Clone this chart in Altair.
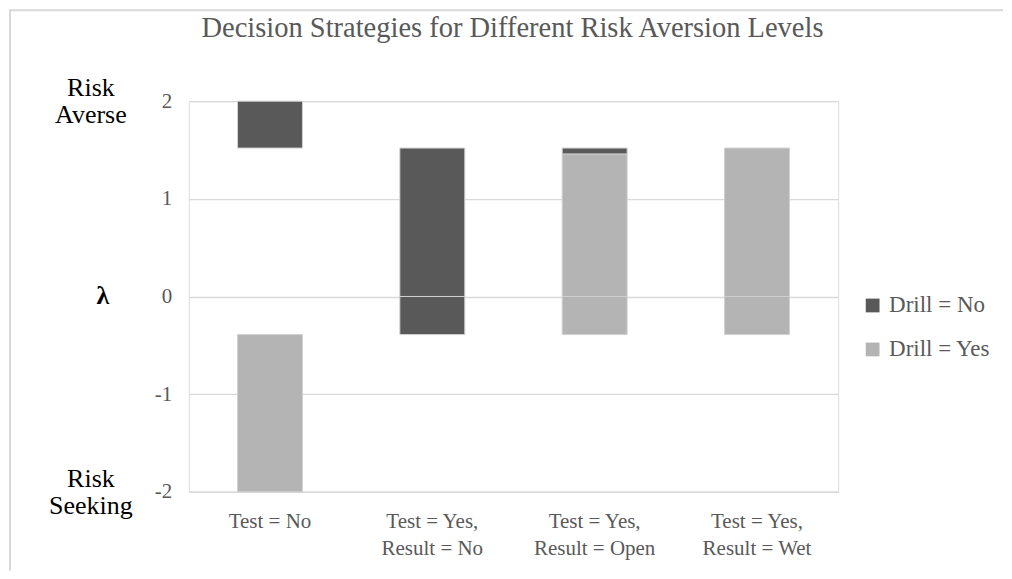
import altair as alt
import pandas as pd

# Categories (| marks a line break in the axis label)
categories = [
    "Test = No",
    "Test = Yes,|Result = No",
    "Test = Yes,|Result = Open",
    "Test = Yes,|Result = Wet",
]
series = ["Drill = No", "Drill = Yes"]

# Floating bar segments (lambda ranges)
seg_cat = [categories[0], categories[0],
           categories[1], categories[1],
           categories[2], categories[2], categories[2],
           categories[3], categories[3]]
seg_drill = ["Drill = No", "Drill = Yes",
             "Drill = No", "Drill = No",
             "Drill = Yes", "Drill = No", "Drill = Yes",
             "Drill = Yes", "Drill = Yes"]
seg_start = [1.52, -2.0,
             0.0, -0.39,
             0.0, 1.46, -0.39,
             0.0, -0.39]
seg_end = [2.0, -0.39,
           1.52, 0.0,
           1.46, 1.52, 0.0,
           1.52, 0.0]

y_ticks = [-2, -1, 0, 1, 2]
ann_text = ["Risk\nAverse", "λ", "Risk\nSeeking"]
ann_y = [2, 0, -2]
ann_lines = [2, 1, 2]
title_text = ["Decision Strategies for Different Risk Aversion Levels"]

bars_df = pd.DataFrame({"cat": seg_cat, "drill": seg_drill,
                        "start": seg_start, "end": seg_end})
ann_df = pd.DataFrame({"t": ann_text, "y": ann_y, "n": ann_lines})
title_df = pd.DataFrame({"t": title_text})

GRAY = "#595959"
FONT = "Liberation Serif"

yscale = alt.Scale(domain=[-2, 2], nice=False, zero=False)

bars = alt.Chart(bars_df).mark_bar(stroke="#d0d0d0", strokeWidth=1).encode(
    x=alt.X("cat:N", sort=categories, title=None,
            scale=alt.Scale(paddingInner=0.6, paddingOuter=0.3),
            axis=alt.Axis(labelExpr="split(datum.label, '|')", labelAngle=0,
                          labelFontSize=21, labelColor=GRAY, labelFont=FONT,
                          labelLineHeight=27, labelPadding=19, ticks=False,
                          domainColor="#d9d9d9", domainWidth=1.5, grid=False,
                          labelBaseline="top")),
    y=alt.Y("start:Q", scale=yscale, title=None,
            axis=alt.Axis(values=y_ticks, labelExpr="'' + datum.value",
                          labelFontSize=21, labelColor=GRAY,
                          labelFont=FONT, labelPadding=17, ticks=False,
                          domain=False, gridColor="#d9d9d9", gridWidth=1.3)),
    y2="end:Q",
    color=alt.Color("drill:N", scale=alt.Scale(domain=series, range=[GRAY, "#b4b4b4"]),
                    legend=alt.Legend(title=None, orient="none", legendX=673, legendY=193,
                                      symbolType="square", symbolSize=190,
                                      symbolStrokeWidth=0, labelFontSize=23,
                                      labelColor=GRAY, labelFont=FONT,
                                      rowPadding=20, labelOffset=5)),
)

ann2 = alt.Chart(ann_df).transform_filter("datum.n == 2").mark_text(
    lineBreak="\n", font=FONT, color="black", fontSize=26,
    align="center", baseline="middle", lineHeight=27, dy=-13).encode(
    x=alt.value(-98),
    y=alt.Y("y:Q", scale=yscale),
    text="t:N",
)
ann1 = alt.Chart(ann_df).transform_filter("datum.n == 1").mark_text(
    font=FONT, color="black", fontSize=26, fontWeight="bold",
    align="center", baseline="middle").encode(
    x=alt.value(-86),
    y=alt.Y("y:Q", scale=yscale),
    text="t:N",
)

title = alt.Chart(title_df).mark_text(font=FONT, color=GRAY, fontSize=28.5,
                                      align="center", baseline="middle").encode(
    x=alt.value(324), y=alt.value(-73), text="t:N")

frame_top = alt.Chart(title_df).mark_rule(color="#d9d9d9", strokeWidth=2).encode(
    x=alt.value(-180), x2=alt.value(815), y=alt.value(-91))
frame_left = alt.Chart(title_df).mark_rule(color="#d9d9d9", strokeWidth=2).encode(
    x=alt.value(-179), y=alt.value(-92), y2=alt.value(470))

chart = alt.layer(frame_top, frame_left, title, bars, ann2, ann1).properties(
    width=650, height=391, padding=0,
).configure_view(stroke=None).configure(font=FONT)

chart.save("out.html", embed_options={"renderer": "svg", "actions": False})
